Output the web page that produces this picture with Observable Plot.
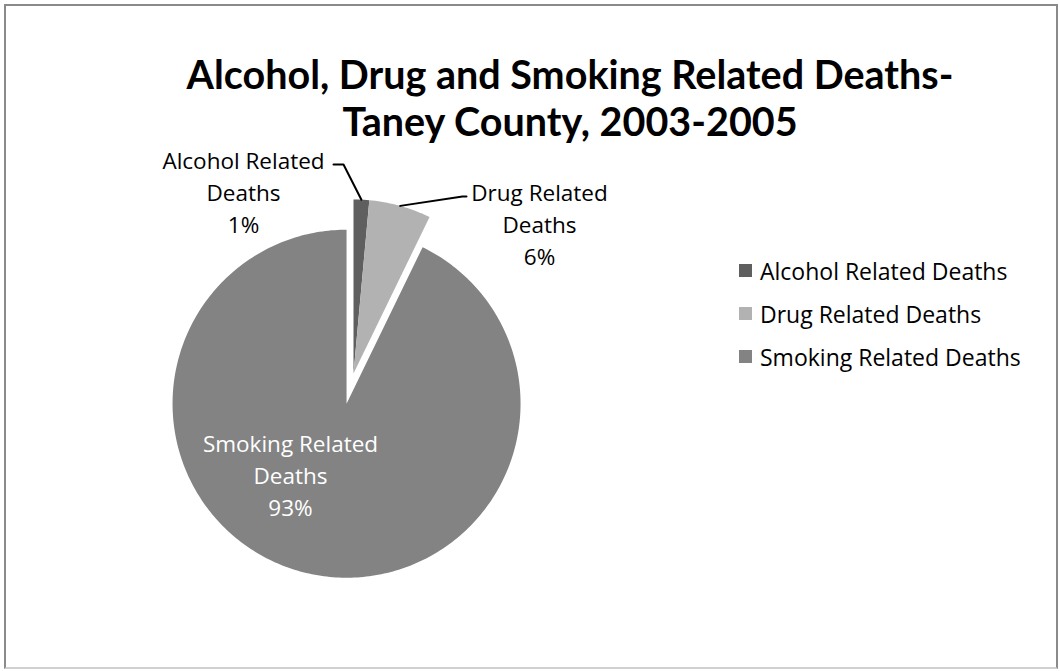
<!DOCTYPE html>
<html><head><meta charset="utf-8">
<script src="https://cdn.jsdelivr.net/npm/d3@7"></script>
<script src="https://cdn.jsdelivr.net/npm/@observablehq/plot@0.6"></script>
<style>
body{margin:0;background:#fff;font-family:"Open Sans",Lato,sans-serif;}
#wrap{position:relative;width:1060px;height:671px;overflow:hidden;background:#fff;}
#frame{position:absolute;left:4px;top:4px;width:1050px;height:661px;border:2px solid #8a8a8a;border-bottom-color:#d0d0d0;}
#chart{position:absolute;left:0;top:0;}
#title{position:absolute;left:80px;width:980px;top:50px;text-align:center;font-family:Lato,sans-serif;font-weight:700;font-size:39.5px;line-height:47px;color:#000;}
#legend{position:absolute;left:739px;top:249px;font-size:23px;color:#000;}
.row{height:43px;display:flex;align-items:center;white-space:nowrap;}
.sw{width:13px;height:13px;margin-right:8px;flex:none;}
</style></head><body>
<div id="wrap"><div id="frame"></div><div id="chart"></div><div id="title"></div><div id="legend"></div></div>
<script>
// ---- data ----
const titleLines = ["Alcohol, Drug and Smoking Related Deaths-", "Taney County, 2003-2005"];
const categories = ["Alcohol Related Deaths", "Drug Related Deaths", "Smoking Related Deaths"];
const sliceLabels = ["Alcohol Related\nDeaths", "Drug Related\nDeaths", "Smoking Related\nDeaths"];
const shares = [1.45, 5.75, 92.8];
const colors = ["#5f5f5f", "#b2b2b2", "#838383"];

// ---- layout ----
const W = 1060, H = 671;
const cx = 353, cy = 373, R = 174;
const explode = [0, 0, 31];           // px outward along bisector
const labelPos = [[243, 190], [539, 222], [290, 473]];
const labelColor = ["#000", "#000", "#fff"];
const leaders = [
  {i: 0, pts: [[343, 164], [333, 164]]},
  {i: 1, pts: [[462, 196], [466, 196]]}
];

const total = d3.sum(shares);
const arcs = d3.pie().sort(null).startAngle(0).endAngle(2 * Math.PI)(shares);

// slice polygons (angles clockwise from 12 o'clock, screen y downward)
const polys = [];
arcs.forEach((a, i) => {
  const mid = (a.startAngle + a.endAngle) / 2;
  const ox = cx + explode[i] * Math.sin(mid), oy = cy - explode[i] * Math.cos(mid);
  polys.push({cat: categories[i], x: ox, y: oy});
  const n = Math.max(2, Math.ceil((a.endAngle - a.startAngle) / (Math.PI / 180)));
  for (let k = 0; k <= n; k++) {
    const t = a.startAngle + (a.endAngle - a.startAngle) * k / n;
    polys.push({cat: categories[i], x: ox + R * Math.sin(t), y: oy - R * Math.cos(t)});
  }
});

const leaderPts = [];
leaders.forEach(l => {
  const a = arcs[l.i], mid = (a.startAngle + a.endAngle) / 2;
  const ox = cx + explode[l.i] * Math.sin(mid), oy = cy - explode[l.i] * Math.cos(mid);
  leaderPts.push({cat: categories[l.i], x: ox + R * Math.sin(mid), y: oy - R * Math.cos(mid)});
  l.pts.forEach(p => leaderPts.push({cat: categories[l.i], x: p[0], y: p[1]}));
});

const labels = categories.map((c, i) => ({
  x: labelPos[i][0], y: labelPos[i][1],
  text: sliceLabels[i] + "\n" + Math.round(shares[i] / total * 100) + "%",
  fill: labelColor[i]
}));

const chart = Plot.plot({
  width: W, height: H,
  margin: 0,
  x: {domain: [0, W], range: [0, W], axis: null},
  y: {domain: [0, H], range: [0, H], axis: null},
  color: {domain: categories, range: colors},
  style: {background: "transparent", fontFamily: "'Open Sans', Lato, sans-serif"},
  marks: [
    Plot.line(polys, {x: "x", y: "y", z: "cat", fill: "cat", stroke: "none", curve: "linear-closed"}),
    Plot.line(leaderPts, {x: "x", y: "y", z: "cat", stroke: "#000", strokeWidth: 2}),
    Plot.text(labels, {x: "x", y: "y", text: "text", fill: d => d.fill, fontSize: 22.5, lineHeight: 1.43, textAnchor: "middle", lineAnchor: "middle"})
  ]
});
document.getElementById("chart").appendChild(chart);

document.getElementById("title").innerHTML = titleLines.join("<br>");
const lg = document.getElementById("legend");
categories.forEach((c, i) => {
  const row = document.createElement("div"); row.className = "row";
  const sw = document.createElement("span"); sw.className = "sw"; sw.style.background = colors[i];
  const tx = document.createElement("span"); tx.textContent = c;
  row.appendChild(sw); row.appendChild(tx); lg.appendChild(row);
});
</script>
</body></html>
